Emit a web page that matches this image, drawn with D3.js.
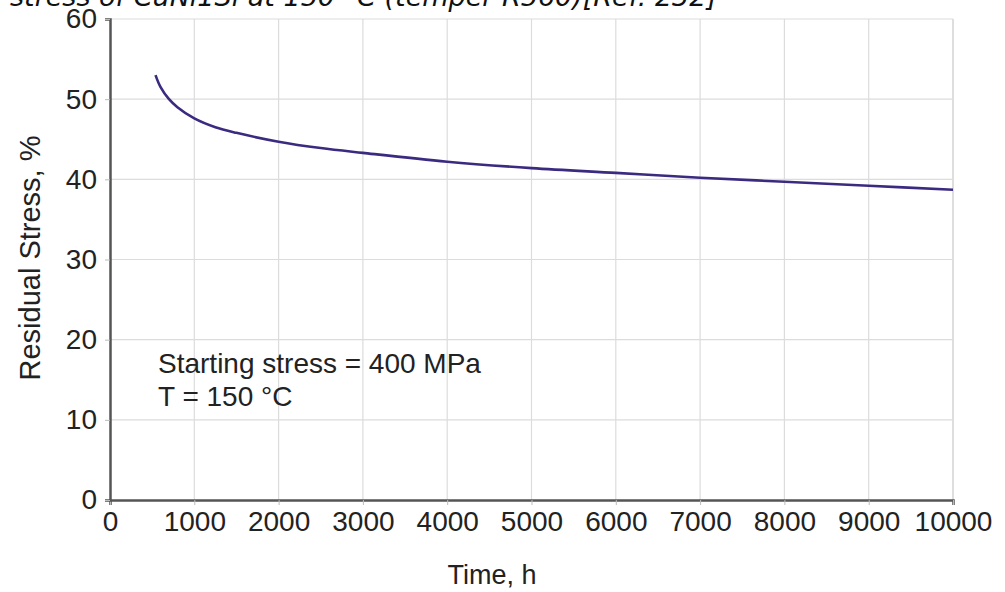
<!DOCTYPE html>
<html>
<head>
<meta charset="utf-8">
<script src="https://cdn.jsdelivr.net/npm/d3@7"></script>
<style>
  html, body { margin: 0; padding: 0; background: #fff; }
  svg { display: block; }
</style>
</head>
<body>
<svg id="chart" width="1005" height="592"></svg>
<script>
// Residual stress relaxation of CuNi1Si, temper R560, at 150 °C
const timeHours = [540, 600, 700, 800, 1000, 1250, 1500, 2000, 2500, 3000, 4000, 5000, 6000, 7000, 8000, 9000, 10000];
const residualStress = [53.0, 51.5, 50.0, 49.0, 47.6, 46.5, 45.8, 44.7, 43.9, 43.3, 42.2, 41.4, 40.8, 40.2, 39.7, 39.2, 38.7];
const xTicks = [0, 1000, 2000, 3000, 4000, 5000, 6000, 7000, 8000, 9000, 10000];
const yTicks = [0, 10, 20, 30, 40, 50, 60];
const titleText = "Residual stress of CuNi1Si at 150 °C (temper R560)[Ref. 232]";
const noteLines = ["Starting stress = 400 MPa", "T = 150 °C"];

const svg = d3.select("#chart");
const margin = { left: 110, right: 52, top: 19, bottom: 92 };
const W = 1005, H = 592;

const x = d3.scaleLinear().domain([0, 10000]).range([margin.left, W - margin.right]);
const y = d3.scaleLinear().domain([0, 60]).range([H - margin.bottom, margin.top]);

const font = "'Liberation Sans', Arial, sans-serif";

// Title (runs past the top-left edge)
svg.append("text")
  .attr("x", 717).attr("y", 6)
  .attr("text-anchor", "end")
  .attr("font-family", "'DejaVu Sans', Verdana, sans-serif")
  .attr("font-style", "italic")
  .attr("font-size", 27)
  .attr("fill", "#111")
  .text(titleText);

// Grid
const grid = svg.append("g");
grid.selectAll("line.v").data(xTicks.filter(d => d > 0)).join("line")
  .attr("x1", d => x(d)).attr("x2", d => x(d))
  .attr("y1", y(60)).attr("y2", y(0))
  .attr("stroke", d => d === 10000 ? "#c8c8c8" : "#dcdcdc").attr("stroke-width", 1.2);
grid.selectAll("line.h").data(yTicks.filter(d => d > 0)).join("line")
  .attr("x1", x(0)).attr("x2", x(10000))
  .attr("y1", d => y(d)).attr("y2", d => y(d))
  .attr("stroke", "#dcdcdc").attr("stroke-width", 1.2);

// Axes
const xAxis = svg.append("g")
  .attr("transform", `translate(0,${y(0)})`)
  .call(d3.axisBottom(x).tickValues(xTicks).tickFormat(d3.format("d")).tickSize(5).tickPadding(6));
const yAxis = svg.append("g")
  .attr("transform", `translate(${x(0)},0)`)
  .call(d3.axisLeft(y).tickValues(yTicks).tickSize(5).tickPadding(8));

[xAxis, yAxis].forEach(g => {
  g.select(".domain").attr("stroke", "#555").attr("stroke-width", 2.5);
  g.selectAll(".tick line").attr("stroke", "#bbb").attr("stroke-width", 1);
  g.selectAll(".tick text").attr("font-family", font).attr("font-size", 28).attr("fill", "#222");
});

// Axis titles
svg.append("text")
  .attr("x", 492).attr("y", 584)
  .attr("text-anchor", "middle")
  .attr("font-family", font).attr("font-size", 27).attr("fill", "#222")
  .text("Time, h");
svg.append("text")
  .attr("transform", `translate(40,258) rotate(-90)`)
  .attr("text-anchor", "middle")
  .attr("font-family", font).attr("font-size", 29).attr("fill", "#222")
  .text("Residual Stress, %");

// Curve
const pts = timeHours.map((t, i) => [t, residualStress[i]]);
svg.append("path")
  .datum(pts)
  .attr("fill", "none")
  .attr("stroke", "#3b2a80")
  .attr("stroke-width", 2.6)
  .attr("d", d3.line().x(d => x(d[0])).y(d => y(d[1])).curve(d3.curveCatmullRom.alpha(0.5)));

// Conditions note
svg.append("g").selectAll("text").data(noteLines).join("text")
  .attr("x", 158).attr("y", (d, i) => 373 + i * 33)
  .attr("font-family", font).attr("font-size", 28).attr("fill", "#222")
  .text(d => d);
</script>
</body>
</html>
